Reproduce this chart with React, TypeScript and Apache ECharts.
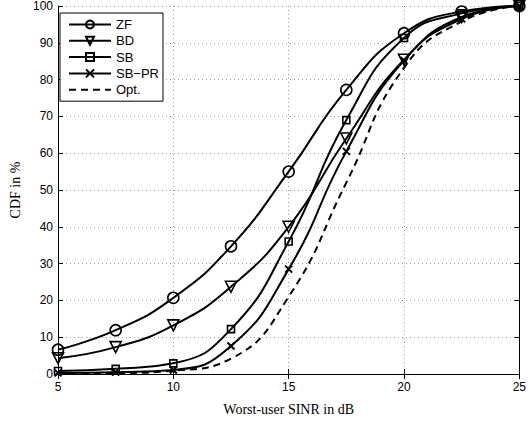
import React, { useEffect, useRef } from "react";
import * as echarts from "echarts";

const xValues = [5, 7.5, 10, 12.5, 15, 17.5, 20, 22.5, 25];
const zf = [6.6, 11.9, 20.7, 34.7, 55, 77.2, 92.6, 98.5, 100];
const bd = [4.3, 7.3, 13.2, 23.7, 40, 64, 85.4, 97, 100];
const sb = [0.8, 1.4, 2.9, 12.2, 36, 69, 91.3, 98, 100];
const sbpr = [0.3, 0.5, 1.1, 7.6, 28.5, 60.5, 85.2, 96.5, 100];
const opt = [0, 0.2, 0.9, 4.2, 21, 52, 83.2, 95.8, 100];
const xTicks = [5, 10, 15, 20, 25];
const yTicks = [0, 10, 20, 30, 40, 50, 60, 70, 80, 90, 100];

const pairs = (ys: number[]) => xValues.map((x, i) => [x, ys[i]]);

export default function App() {
  const ref = useRef<HTMLDivElement>(null);
  useEffect(() => {
    if (!ref.current) return;
    const chart = echarts.init(ref.current, null, { renderer: "svg" });
    const tickFont = { fontFamily: "Liberation Sans, Arial, sans-serif", fontSize: 12, color: "#000" };
    const base = {
      type: "line" as const,
      smooth: 0.5,
      lineStyle: { color: "#000", width: 2 },
      itemStyle: { color: "rgba(255,255,255,0)", borderColor: "#000", borderWidth: 1.6 },
      z: 3,
    };
    chart.setOption({
      animation: false,
      backgroundColor: "#fff",
      grid: { left: 55, right: 6, top: 6, bottom: 49 },
      legend: {
        orient: "vertical",
        left: 60,
        top: 13,
        backgroundColor: "#fff",
        borderColor: "#000",
        borderWidth: 1,
        borderRadius: 0,
        padding: [5, 4, 5, 8],
        itemWidth: 42,
        itemHeight: 10,
        itemGap: 3.3,
        textStyle: { fontFamily: "Liberation Sans, Arial, sans-serif", fontSize: 13, color: "#000" },
        data: ["ZF", "BD", "SB", "SB\u2212PR", { name: "Opt.", itemStyle: { opacity: 0 } }],
      },
      xAxis: [
        {
          type: "value",
          min: 5,
          max: 25,
          interval: 5,
          axisLine: { show: true, lineStyle: { color: "#000", width: 1 } },
          axisTick: { show: true, inside: true, length: 5, lineStyle: { color: "#000" } },
          axisLabel: { ...tickFont, margin: 7, formatter: (v: number) => (xTicks.includes(v) ? String(v) : "") },
          splitLine: { show: true, lineStyle: { color: "#999", type: [1, 3], width: 1 } },
          name: "Worst-user SINR in dB",
          nameLocation: "middle",
          nameGap: 28,
          nameTextStyle: { fontFamily: "Liberation Serif, Times New Roman, serif", fontSize: 14, color: "#000" },
        },
        {
          type: "value",
          position: "top",
          min: 5,
          max: 25,
          interval: 5,
          axisLine: { show: true, lineStyle: { color: "#000", width: 1 } },
          axisTick: { show: true, inside: true, length: 5, lineStyle: { color: "#000" } },
          axisLabel: { show: false },
          splitLine: { show: false },
        },
      ],
      yAxis: [
        {
          type: "value",
          min: 0,
          max: 100,
          interval: 10,
          axisLine: { show: true, lineStyle: { color: "#000", width: 1 } },
          axisTick: { show: true, inside: true, length: 5, lineStyle: { color: "#000" } },
          axisLabel: { ...tickFont, margin: 5, formatter: (v: number) => (yTicks.includes(v) ? String(v) : "") },
          splitLine: { show: true, lineStyle: { color: "#999", type: [1, 3], width: 1 } },
          name: "CDF in %",
          nameLocation: "middle",
          nameGap: 36,
          nameTextStyle: { fontFamily: "Liberation Serif, Times New Roman, serif", fontSize: 14, color: "#000" },
        },
        {
          type: "value",
          position: "right",
          min: 0,
          max: 100,
          interval: 10,
          axisLine: { show: true, lineStyle: { color: "#000", width: 1 } },
          axisTick: { show: true, inside: true, length: 5, lineStyle: { color: "#000" } },
          axisLabel: { show: false },
          splitLine: { show: false },
        },
      ],
      series: [
        { ...base, name: "ZF", data: pairs(zf), symbol: "circle", symbolSize: 11 },
        { ...base, name: "BD", data: pairs(bd), symbol: "triangle", symbolRotate: 180, symbolSize: 11 },
        { ...base, name: "SB", data: pairs(sb), symbol: "rect", symbolSize: 7 },
        {
          ...base,
          name: "SB\u2212PR",
          data: pairs(sbpr),
          symbol: "path://M0,0L10,10M10,0L0,10",
          symbolSize: 7,
          itemStyle: { color: "rgba(255,255,255,0)", borderColor: "#000", borderWidth: 2 },
        },
        {
          ...base,
          name: "Opt.",
          data: pairs(opt),
          symbol: "circle",
          showSymbol: false,
          lineStyle: { color: "#000", width: 2, type: [7, 5] },
          itemStyle: { color: "#000" },
        },
      ],
    });
    return () => chart.dispose();
  }, []);
  return <div ref={ref} style={{ width: 529, height: 423, position: "absolute", left: 0, top: 0 }} />;
}
